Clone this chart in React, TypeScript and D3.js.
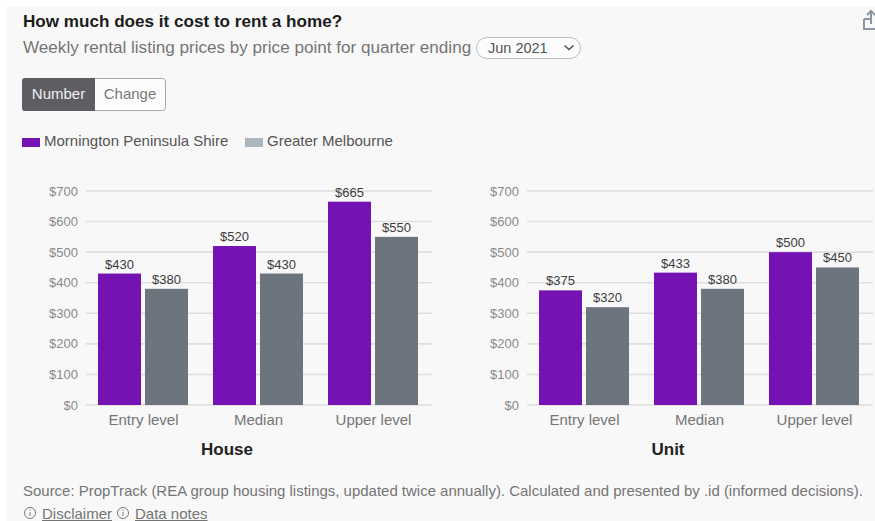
import React from "react";
import * as d3 from "d3";

const FONT = "'Liberation Sans', Arial, sans-serif";
const priceCategories = ["Entry level", "Median", "Upper level"];
const seriesNames = ["Mornington Peninsula Shire", "Greater Melbourne"];
const seriesColors = ["#7412b4", "#6c757d"];
const legendColors = ["#7412b4", "#adb5bd"];
const houseMornington = [430, 520, 665];
const houseMelbourne = [380, 430, 550];
const unitMornington = [375, 433, 500];
const unitMelbourne = [320, 380, 450];
const yTicks = [0, 100, 200, 300, 400, 500, 600, 700];

const yScale = d3.scaleLinear().domain([0, 700]).range([405, 191]);

function RentPanel({ title, left, right, series }: { title: string; left: number; right: number; series: number[][] }) {
  const x0 = d3.scaleBand<string>().domain(priceCategories).range([left, right - 1]);
  const x1 = d3
    .scaleBand<number>()
    .domain([0, 1])
    .range([12, 102])
    .paddingInner(0.085);
  return (
    <g fontFamily={FONT}>
      {yTicks.map((t) => (
        <g key={t}>
          <line x1={left} x2={right} y1={yScale(t)} y2={yScale(t)} stroke="#dedede" strokeWidth={1.6} />
          <text x={left - 8} y={yScale(t) + 4.5} textAnchor="end" fontSize={13} fill="#8a8a8a">
            {"$" + t}
          </text>
        </g>
      ))}
      {priceCategories.map((c, i) => (
        <g key={c}>
          {series.map((vals, s) => (
            <g key={s}>
              <rect
                x={x0(c)! + x1(s)!}
                width={x1.bandwidth()}
                y={yScale(vals[i])}
                height={yScale(0) - yScale(vals[i])}
                fill={seriesColors[s]}
              />
              <text
                x={x0(c)! + x1(s)! + x1.bandwidth() / 2}
                y={yScale(vals[i]) - 5}
                textAnchor="middle"
                fontSize={13}
                fill="#3c3c3c"
              >
                {"$" + vals[i]}
              </text>
            </g>
          ))}
          <text
            x={x0(c)! + x0.bandwidth() / 2}
            y={425}
            textAnchor="middle"
            fontSize={15}
            fill="#757575"
          >
            {c}
          </text>
        </g>
      ))}
      <text x={(left + right) / 2 - 32} y={455} textAnchor="middle" fontSize={17} fontWeight="bold" fill="#222">
        {title}
      </text>
    </g>
  );
}

function InfoIcon({ x, y }: { x: number; y: number }) {
  return (
    <g>
      <circle cx={x} cy={y} r={5.5} fill="none" stroke="#7a7a7a" strokeWidth={1} />
      <line x1={x} x2={x} y1={y - 1} y2={y + 3} stroke="#7a7a7a" strokeWidth={1} />
      <line x1={x} x2={x} y1={y - 3.4} y2={y - 2.2} stroke="#7a7a7a" strokeWidth={1} />
    </g>
  );
}

export default function App() {
  return (
    <svg
      width={875}
      height={521}
      style={{ position: "absolute", left: 0, top: 0, background: "#fff" }}
      fontFamily={FONT}
    >
      <rect x={6} y={7} width={869} height={514} fill="#f8f8f8" />
      <text x={23} y={27} fontSize={17.1} fontWeight="bold" fill="#1c1c1c">
        How much does it cost to rent a home?
      </text>
      <text x={23} y={53} fontSize={17.1} fill="#757575">
        Weekly rental listing prices by price point for quarter ending
      </text>

      {/* quarter selector */}
      <rect x={476.5} y={37.5} width={104} height={21} rx={10.5} fill="#fcfcfc" stroke="#bdbdbd" />
      <text x={488} y={53} fontSize={14.5} fill="#555">
        Jun 2021
      </text>
      <path d="M564.5 45.5 L569 49.5 L573.5 45.5" fill="none" stroke="#555" strokeWidth={1.6} />

      {/* share icon */}
      <g fill="none" stroke="#8d97a3" strokeWidth={2}>
        <path d="M864 19 V29 H877 M870 19 H864" />
        <path d="M871 24 V11 M867 15 L871 11 L875 15" />
      </g>

      {/* number / change toggle */}
      <rect x={22.5} y={78.5} width={143} height={32} rx={3} fill="#fcfcfc" stroke="#a8a8a8" />
      <path d="M95 78 H25 a3 3 0 0 0 -3 3 V108 a3 3 0 0 0 3 3 H95 Z" fill="#5c5e62" />
      <text x={58.5} y={99} textAnchor="middle" fontSize={15} fill="#f0f0f0">
        Number
      </text>
      <text x={130} y={99} textAnchor="middle" fontSize={15} fill="#7a7a7a">
        Change
      </text>

      {/* legend */}
      {seriesNames.map((name, i) => {
        const keyX = i === 0 ? 22 : 245;
        return (
          <g key={name}>
            <rect x={keyX} y={138} width={18} height={9} fill={legendColors[i]} />
            <text x={keyX + 22} y={146} fontSize={15} fill="#555">
              {name}
            </text>
          </g>
        );
      })}

      <RentPanel title="House" left={86} right={432} series={[houseMornington, houseMelbourne]} />
      <RentPanel title="Unit" left={527} right={873} series={[unitMornington, unitMelbourne]} />

      {/* source and links */}
      <text x={23} y={496} fontSize={14.97} fill="#757575">
        Source: PropTrack (REA group housing listings, updated twice annually). Calculated and presented by .id (informed decisions).
      </text>
      <InfoIcon x={30} y={513} />
      <text x={42} y={519} fontSize={15} fill="#757575" textDecoration="underline">
        Disclaimer
      </text>
      <InfoIcon x={123} y={513} />
      <text x={135} y={519} fontSize={15} fill="#757575" textDecoration="underline">
        Data notes
      </text>
    </svg>
  );
}
